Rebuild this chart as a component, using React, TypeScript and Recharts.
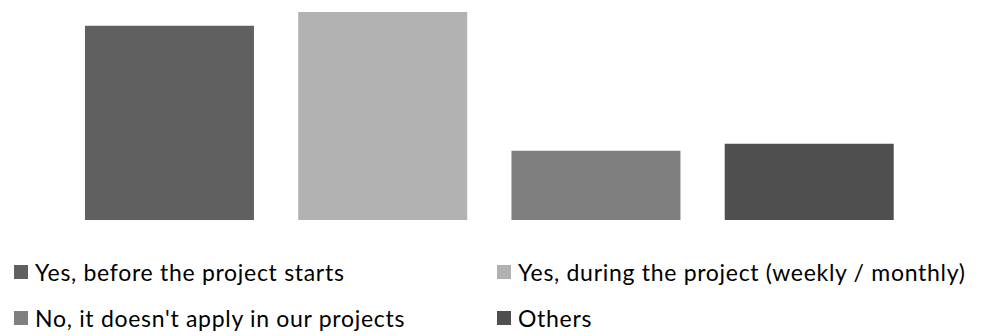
import React from "react";
import { BarChart, Bar, XAxis, YAxis, Cell } from "recharts";

const categories = [
  "Yes, before the project starts",
  "Yes, during the project (weekly / monthly)",
  "No, it doesn't apply in our projects",
  "Others",
];
const values = [28, 30, 10, 11];
const colors = ["#606060", "#b2b2b2", "#7f7f7f", "#4f4f4f"];

const data = categories.map((name, i) => ({ name, value: values[i] }));

const FONT = "Lato, 'Open Sans', sans-serif";

const CustomLegend = () => {
  const cols = [14, 497];
  const rowCenters = [272, 318];
  return (
    <>
      {categories.map((c, i) => {
        const col = i % 2;
        const row = Math.floor(i / 2);
        return (
          <div
            key={c}
            style={{
              position: "absolute",
              left: cols[col],
              top: rowCenters[row] - 15,
              height: 30,
              display: "flex",
              alignItems: "center",
              whiteSpace: "nowrap",
              fontFamily: FONT,
              fontSize: 23,
              letterSpacing: 0.7,
              color: "#000",
            }}
          >
            <span
              style={{
                display: "inline-block",
                width: 14,
                height: 14,
                background: colors[i],
                marginRight: 7,
              }}
            />
            <span>{c}</span>
          </div>
        );
      })}
    </>
  );
};

export default function App() {
  return (
    <div style={{ position: "absolute", left: 0, top: 0, width: 982, height: 336, background: "#fff", overflow: "hidden" }}>
      <BarChart
        width={982}
        height={336}
        data={data}
        margin={{ top: 12, left: 63, right: 66, bottom: 116 }}
        barCategoryGap="10.3%"
      >
        <XAxis dataKey="name" hide />
        <YAxis hide domain={[0, 30]} />
        <Bar dataKey="value" isAnimationActive={false}>
          {data.map((d, i) => (
            <Cell key={d.name} fill={colors[i]} />
          ))}
        </Bar>
      </BarChart>
      <CustomLegend />
    </div>
  );
}
